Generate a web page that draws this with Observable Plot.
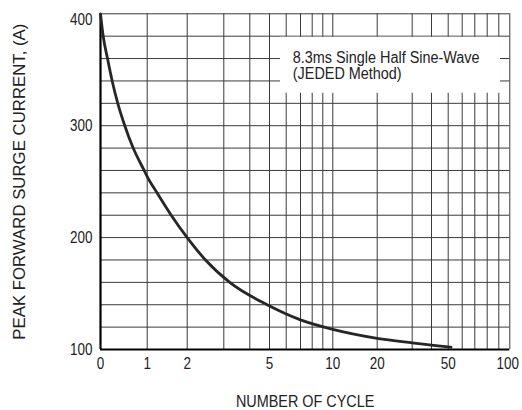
<!DOCTYPE html>
<html>
<head>
<meta charset="utf-8">
<script src="https://cdn.jsdelivr.net/npm/d3@7"></script>
<script src="https://cdn.jsdelivr.net/npm/@observablehq/plot@0.6"></script>
<style>
  html, body { margin: 0; padding: 0; background: #ffffff; }
  #chart svg { display: block; }
</style>
</head>
<body>
<div id="chart"></div>
<script>
// ---- data ----
const cycles  = [0, 0.058, 0.15, 0.25, 0.37, 0.52, 0.70, 0.935, 1, 1.245, 1.6, 2, 2.5, 3.23, 4.88, 7, 10, 20, 30, 40, 50, 52];
const current = [400, 380, 360, 340, 320, 300, 280, 260, 254.5, 240, 220, 200, 180, 160, 140, 126.5, 118, 110, 106, 104, 102.3, 102];

const xTickValues = [0, 1, 2, 5, 10, 20, 50, 100];
const xGridValues = [1, 2, 3, 4, 5, 6, 7, 8, 9, 10, 20, 30, 40, 50, 60, 70, 80, 90, 100];
const yTickValues = [100, 200, 300, 400];
const yGridValues = [120, 140, 160, 180, 200, 220, 240, 260, 280, 300, 320, 340, 360, 380, 400];

const legendLines = ["8.3ms Single Half Sine-Wave", "(JEDED Method)"];
const xTitle = "NUMBER OF CYCLE";
const yTitle = "PEAK FORWARD SURGE CURRENT, (A)";

const curve = cycles.map((c, i) => ({cycles: c, current: current[i]}));

// the datasheet's warped (log-like) cycle axis, as a piecewise scale
const knots = [0, 1, 2, 3, 4, 5, 6, 7, 8, 9, 10, 20, 30, 40, 50, 60, 70, 80, 90, 100];
const knotPx = [100, 146.7, 186.7, 223.3, 249.3, 269, 285.7, 300, 311.7, 322.3, 332.3, 376.7, 411.7, 431, 447.7, 461.7, 474.3, 486.7, 498.3, 509.3];

const regular = "'Liberation Sans', Arial, Helvetica, sans-serif";
const tickText = {tickSize: 0, label: null, fontSize: 16, fontFamily: regular, fill: "#222"};

const chart = Plot.plot({
  width: 522,
  height: 410,
  marginLeft: 100,
  marginRight: 12.7,
  marginTop: 13.3,
  marginBottom: 61,
  style: {fontFamily: regular, fontSize: "16px", color: "#222", background: "#fff"},
  x: {type: "linear", domain: knots, range: knotPx, axis: null},
  y: {type: "linear", domain: [100, 400], axis: null},
  marks: [
    Plot.ruleY(yGridValues, {stroke: "#3a3a3a", strokeWidth: 1}),
    Plot.ruleX(xGridValues, {stroke: "#3a3a3a", strokeWidth: 1}),
    // white legend panel
    Plot.rect([legendLines], {x1: 5.66, x2: 91.5, y1: 329, y2: 379, fill: "#ffffff"}),
    Plot.text([legendLines.join("\n")], {
      x: 6.46, y: 366.4, text: d => d, textAnchor: "start", lineAnchor: "top",
      lineHeight: 1.0, fontSize: 16, fontFamily: regular, fill: "#222"
    }),
    // axes lines
    Plot.ruleX([0], {stroke: "#000", strokeWidth: 2.2}),
    Plot.ruleY([100], {stroke: "#000", strokeWidth: 2.2}),
    // curve
    Plot.line(curve, {x: "cycles", y: "current", stroke: "#262626", strokeWidth: 2.8, curve: "monotone-x"}),
    // tick labels
    Plot.axisX(xTickValues.filter(v => v < 100), {...tickText, tickPadding: 8}),
    Plot.axisX(xTickValues.filter(v => v === 100), {...tickText, tickPadding: 8, dx: -2}),
    Plot.axisY(yTickValues.filter(v => v < 400), {...tickText, tickPadding: 8}),
    Plot.axisY(yTickValues.filter(v => v === 400), {...tickText, tickPadding: 8, dy: 6}),
    // titles
    Plot.text([xTitle], {text: d => d, frameAnchor: "bottom", textAnchor: "middle", dy: 57, lineAnchor: "bottom", fontSize: 16, fontFamily: regular, fill: "#222"}),
    Plot.text([yTitle], {text: d => d, frameAnchor: "left", textAnchor: "middle", dx: -80.5, rotate: -90, fontSize: 16.8, fontFamily: regular, fill: "#222"})
  ]
});

document.getElementById("chart").appendChild(chart);

// the reference's lettering is horizontally condensed: narrow the glyphs to match
const svg = d3.select(chart);
function squeeze(nodes, k) {
  nodes.each(function () {
    const len = this.getComputedTextLength();
    if (len > 0) {
      this.setAttribute("textLength", (len * k).toFixed(2));
      this.setAttribute("lengthAdjust", "spacingAndGlyphs");
    }
  });
}
squeeze(svg.selectAll('g[aria-label="x-axis tick label"] text, g[aria-label="y-axis tick label"] text'), 0.84);
svg.selectAll("text").each(function () {
  if (this.textContent === xTitle) squeeze(d3.select(this), 0.9);
});
svg.selectAll("tspan").each(function () {
  if (legendLines.includes(this.textContent)) squeeze(d3.select(this), 0.9);
});
</script>
</body>
</html>
